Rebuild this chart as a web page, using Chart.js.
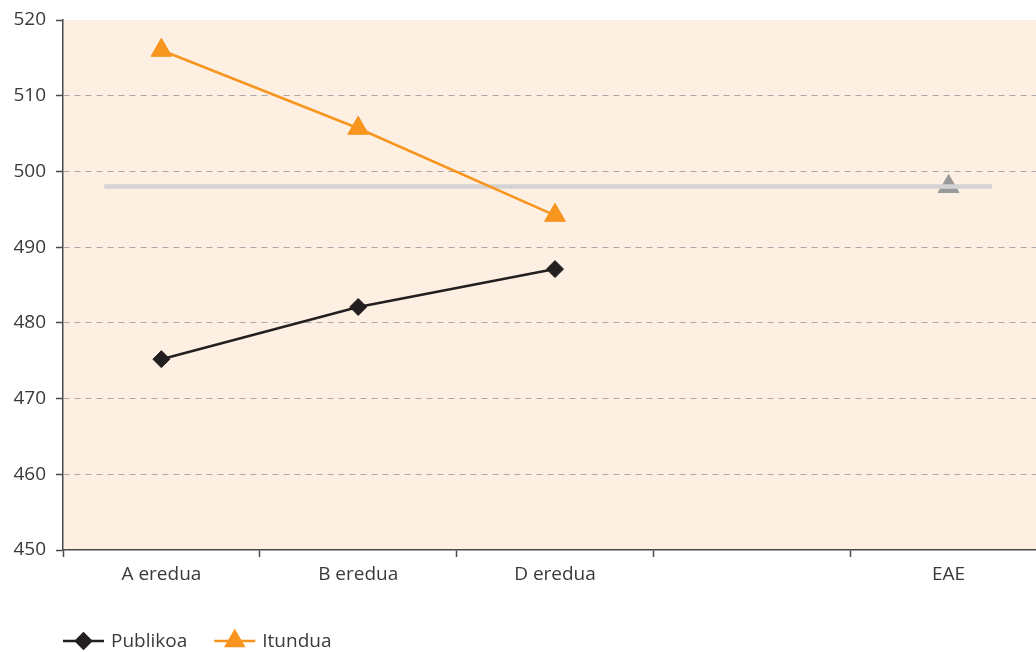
<!DOCTYPE html>
<html>
<head>
<meta charset="utf-8">
<script src="https://cdn.jsdelivr.net/npm/chart.js@4/dist/chart.umd.min.js"></script>
<style>
html,body{margin:0;padding:0;background:#fff;overflow:hidden;width:1036px;height:652px;}
#wrap{position:absolute;left:0;top:0;width:1047px;height:652px;}
</style>
</head>
<body>
<div id="wrap"><canvas id="c" width="1047" height="652"></canvas></div>
<script>
// ---- data ----
const categories = ['A eredua', 'B eredua', 'D eredua', '', 'EAE'];
const publikoa = [475.2, 482.1, 487.1, null, null];
const itundua = [516.0, 505.7, 494.2, null, null];
const eae = [null, null, null, null, 498.0];
const eaeLineX = [-0.29, 4.22];
const eaeLineY = [498.0, 498.0];
const yTicks = [450, 460, 470, 480, 490, 500, 510, 520];
const seriesNames = ['Publikoa', 'Itundua'];

// ---- styles ----
const FONT = "'Open Sans', 'Noto Sans', sans-serif";
const TEXT = '#3a3a3a';
const AXIS = '#4a4a4a';
const GRID = '#a8a8a8';
const ORANGE = '#f7951f';
const BLACK = '#231f20';

const bgPlugin = {
  id: 'bg',
  beforeDraw(chart) {
    const {ctx, chartArea: a} = chart;
    ctx.save();
    ctx.fillStyle = '#fdf0e3';
    ctx.fillRect(a.left, a.top, a.right - a.left, a.bottom - a.top);
    ctx.restore();
  }
};

const legendPlugin = {
  id: 'customLegend',
  afterDraw(chart) {
    const {ctx, chartArea} = chart;
    const y = 641;
    let x = chartArea.left;
    ctx.save();
    ctx.font = '19px ' + FONT;
    ctx.textBaseline = 'middle';
    chart.data.datasets.forEach(ds => {
      if (!ds.inLegend) return;
      const w = 41;
      ctx.strokeStyle = ds.borderColor;
      ctx.lineWidth = 2.5;
      ctx.beginPath();
      ctx.moveTo(x, y);
      ctx.lineTo(x + w, y);
      ctx.stroke();
      ctx.fillStyle = ds.pointBackgroundColor;
      ctx.strokeStyle = ds.pointBorderColor;
      Chart.helpers.drawPoint(ctx, {pointStyle: ds.pointStyle, radius: ds.legendRadius, borderWidth: 1}, x + w / 2, y);
      ctx.fillStyle = TEXT;
      ctx.fillText(ds.label, x + w + 7, y + 1);
      x += w + 7 + ctx.measureText(ds.label).width + 27;
    });
    ctx.restore();
  }
};

function noPad(s) { s.paddingLeft = 0; s.paddingRight = 0; s.paddingTop = 0; s.paddingBottom = 0; }

new Chart(document.getElementById('c'), {
  type: 'line',
  data: {
    labels: categories,
    datasets: [
      {
        label: seriesNames[0], data: publikoa, xAxisID: 'x', order: 0, inLegend: true,
        borderColor: BLACK, borderWidth: 2.5, pointStyle: 'rectRot', pointRadius: 8.5,
        pointBackgroundColor: BLACK, pointBorderColor: BLACK, pointBorderWidth: 1, legendRadius: 7.5,
        spanGaps: false
      },
      {
        label: seriesNames[1], data: itundua, xAxisID: 'x', order: 0, inLegend: true,
        borderColor: ORANGE, borderWidth: 2.5, pointStyle: 'triangle', pointRadius: 12,
        pointBackgroundColor: ORANGE, pointBorderColor: ORANGE, pointBorderWidth: 1, legendRadius: 10,
        spanGaps: false
      },
      {
        label: 'EAE line', data: eaeLineX.map((v, i) => ({x: v, y: eaeLineY[i]})), xAxisID: 'x2', order: 1,
        borderColor: '#d3d3d3', borderWidth: 4.5, pointRadius: 0, borderCapStyle: 'butt'
      },
      {
        label: 'EAE', data: eae, xAxisID: 'x', order: 2,
        showLine: false, pointStyle: 'triangle', pointRadius: 12,
        pointBackgroundColor: '#999999', pointBorderColor: '#999999', pointBorderWidth: 1
      }
    ]
  },
  options: {
    responsive: false,
    animation: false,
    layout: {autoPadding: false, padding: {top: 20, right: 0, left: 0, bottom: 0}},
    plugins: {legend: {display: false}, tooltip: {enabled: false}},
    scales: {
      x: {
        type: 'category', offset: true,
        grid: {offset: true, drawOnChartArea: false, drawTicks: true, tickLength: 7, tickColor: AXIS, tickWidth: 1.5},
        border: {color: AXIS, width: 1.5},
        ticks: {color: TEXT, font: {family: FONT, size: 19}, padding: 6, maxRotation: 0, autoSkip: false},
        afterFit(s) { s.height = 102; noPad(s); }
      },
      x2: {
        type: 'linear', display: false, min: -0.5, max: 4.5,
        afterFit(s) { noPad(s); }
      },
      y: {
        min: 450, max: 520,
        afterBuildTicks(s) { s.ticks = yTicks.map(v => ({value: v})); },
        grid: {
          color: c => (c.tick && (c.tick.value === 450 || c.tick.value === 520)) ? 'rgba(0,0,0,0)' : GRID,
          lineWidth: 1, tickLength: 7, tickColor: AXIS, tickWidth: 1.5
        },
        border: {color: AXIS, width: 1.5, dash: [6, 5]},
        ticks: {color: TEXT, font: {family: FONT, size: 19}, padding: 10},
        afterFit(s) { s.width = 63; noPad(s); }
      }
    }
  },
  plugins: [bgPlugin, legendPlugin]
});
</script>
</body>
</html>
